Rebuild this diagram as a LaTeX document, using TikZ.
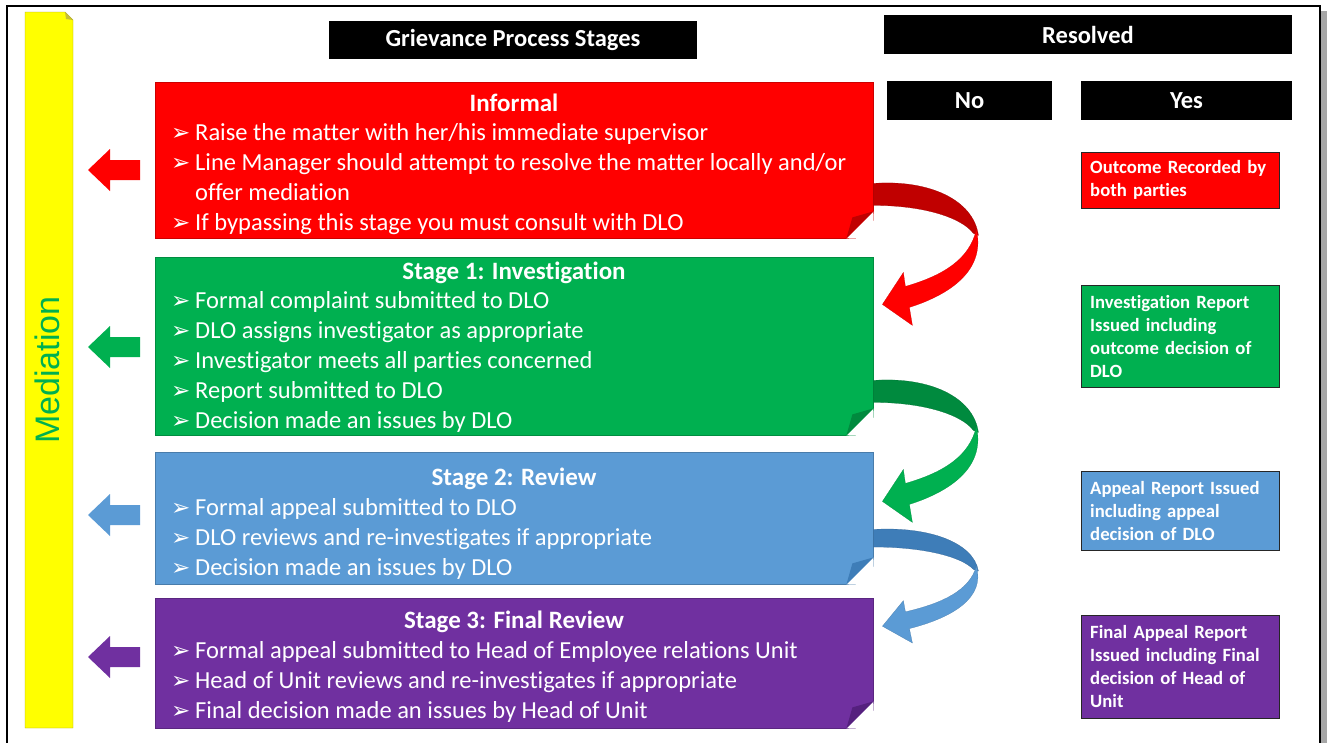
\documentclass[tikz,border=0pt]{standalone}
\usepackage{fontspec}
\setmainfont{Carlito}[Ligatures=NoCommon]
\newfontfamily\medfont{Liberation Sans}
\newfontfamily\bulfont{DejaVu Sans}

\definecolor{infred}{HTML}{FF0000}
\definecolor{infreddk}{HTML}{C00000}
\definecolor{invgreen}{HTML}{00B050}
\definecolor{invgreendk}{HTML}{008A3E}
\definecolor{revblue}{HTML}{5B9BD5}
\definecolor{revbluedk}{HTML}{3E7DB8}
\definecolor{finpurple}{HTML}{7030A0}
\definecolor{finpurpledk}{HTML}{55207E}
\definecolor{medyellow}{HTML}{FFFF00}

\newcommand{\bul}{\makebox[24pt][l]{\bulfont\fontsize{23}{23}\selectfont ➢}}

% folded corner at the bottom right of a stage box
\newcommand{\foldcorner}[2]{%
  \fill[white] ([xshift=-27pt]#1.south east) -- ([xshift=1pt,yshift=-1pt]#1.south east) -- ([yshift=27pt]#1.south east) -- cycle;
  \fill[#2] ([xshift=-27pt]#1.south east) -- ([xshift=-21pt,yshift=21pt]#1.south east) -- ([yshift=27pt]#1.south east) -- cycle;}

% curled arrow from one stage down to the next
\newcommand{\curlarrow}[4]{%
  \begin{scope}[shift={([yshift=55pt]#1.south east)}, yscale=#4]
    \fill[#3, draw=#3!80!black, very thin] (0,0) .. controls (55,-4) and (100,16) .. (105,52)
      -- (100,50) .. controls (88,34) and (50,22) .. (0,22) -- cycle;
    \fill[#2, draw=#2!80!black, very thin] (103,46) .. controls (112,85) and (80,110) .. (36,124)
      -- (39,142) -- (9,121) -- (30,89) -- (32,103) .. controls (70,92) and (96,76) .. (103,46) -- cycle;
  \end{scope}}

% block arrow pointing to the mediation bar
\newcommand{\backarrow}[2]{%
  \fill[#2] (140,#1-10) -- (110,#1-10) -- (110,#1-21) -- (88,#1) -- (110,#1+21) -- (110,#1+10) -- (140,#1+10) -- cycle;}

\tikzset{
  headbox/.style={fill=black, text=white, font=\bfseries\fontsize{24.5}{28}\selectfont, inner sep=0pt},
  stagebox/.style={fill=#1, draw=#1!80!black, anchor=north west, minimum width=718pt, inner sep=0pt},
  stagehead/.style={anchor=base, text=white, font=\bfseries\fontsize{25}{28}\selectfont, inner sep=0pt},
  stagebody/.style={anchor=north west, text=white, font=\fontsize{24.5}{30}\selectfont, inner sep=0pt, align=left},
  resultbox/.style={fill=#1, draw=black!85, anchor=north west, text=white, font=\bfseries\fontsize{18.7}{23}\selectfont,
    text width=180pt, inner xsep=9pt, inner ysep=0pt, align=left}
}

\begin{document}
\begin{tikzpicture}[x=1pt, y=-1pt, >=latex]
  \useasboundingbox (0,0) rectangle (1327,742);

  % Frame
  \fill[gray!70] (1321,11) rectangle (1327,760);
  \draw[line width=1.6pt] (7,6) rectangle (1320,760);

  % Mediation bar
  \fill[medyellow, draw=olive!80] (25,12) -- (65,12) -- (73,20) -- (73,728) -- (25,728) -- cycle;
  \fill[yellow!75!black] (65,12) -- (66,19) -- (73,20) -- cycle;
  \node[rotate=90, text=invgreen, font=\medfont\fontsize{34}{34}\selectfont] (mediation) at (47,370) {Mediation};

  % Headers
  \node[headbox, minimum width=368pt, minimum height=38pt] (stages) at (513,40) {Grievance Process Stages};
  \node[headbox, minimum width=408pt, minimum height=39pt] (resolved) at (1088,34.5) {Resolved};
  \node[headbox, minimum width=165pt, minimum height=39pt] (no) at (969.5,100.5) {No};
  \node[headbox, minimum width=211pt, minimum height=39pt] (yes) at (1186.5,100.5) {Yes};

  % Stage boxes
  \node[stagebox=infred, minimum height=156pt] (informal) at (155,82) {};
  \node[stagebox=invgreen, minimum height=178pt] (stageone) at (155,257) {};
  \node[stagebox=revblue, minimum height=132pt] (stagetwo) at (155,452) {};
  \node[stagebox=finpurple, minimum height=130pt] (stagethree) at (155,598) {};
  \foldcorner{informal}{infreddk}
  \foldcorner{stageone}{invgreendk}
  \foldcorner{stagetwo}{revbluedk}
  \foldcorner{stagethree}{finpurpledk}

  % Curled arrows
  \curlarrow{informal}{infred}{infreddk}{1}
  \curlarrow{stageone}{invgreen}{invgreendk}{1}
  \curlarrow{stagetwo}{revblue}{revbluedk}{0.8}

  % Arrows to mediation
  \backarrow{170}{infred}
  \backarrow{347}{invgreen}
  \backarrow{515}{revblue}
  \backarrow{657}{finpurple}

  % Stage texts
  \node[stagehead] (informalhead) at (514,111) {Informal};
  \node[stagebody] (informalbody) at (171,119) {\begin{tabular}{@{}l@{}l@{}}
    \bul & Raise the matter with her/his immediate supervisor\\
    \bul & Line Manager should attempt to resolve the matter locally and/or\\
         & offer mediation\\
    \bul & If bypassing this stage you must consult with DLO
  \end{tabular}};

  \node[stagehead] (stageonehead) at (514,279) {Stage 1: Investigation};
  \node[stagebody] (stageonebody) at (171,287) {\begin{tabular}{@{}l@{}l@{}}
    \bul & Formal complaint submitted to DLO\\
    \bul & DLO assigns investigator as appropriate\\
    \bul & Investigator meets all parties concerned\\
    \bul & Report submitted to DLO\\
    \bul & Decision made an issues by DLO
  \end{tabular}};

  \node[stagehead] (stagetwohead) at (514,485) {Stage 2: Review};
  \node[stagebody] (stagetwobody) at (171,494) {\begin{tabular}{@{}l@{}l@{}}
    \bul & Formal appeal submitted to DLO\\
    \bul & DLO reviews and re-investigates if appropriate\\
    \bul & Decision made an issues by DLO
  \end{tabular}};

  \node[stagehead] (stagethreehead) at (514,628) {Stage 3: Final Review};
  \node[stagebody] (stagethreebody) at (171,637) {\begin{tabular}{@{}l@{}l@{}}
    \bul & Formal appeal submitted to Head of Employee relations Unit\\
    \bul & Head of Unit reviews and re-investigates if appropriate\\
    \bul & Final decision made an issues by Head of Unit
  \end{tabular}};

  % Outcomes
  \node[resultbox=infred, minimum height=56pt] (outinformal) at (1081,152) {Outcome Recorded by\\both parties};
  \node[resultbox=invgreen, minimum height=102pt] (outone) at (1081,285) {Investigation Report\\Issued including\\outcome decision of\\DLO};
  \node[resultbox=revblue, minimum height=79pt] (outtwo) at (1081,471) {Appeal Report Issued\\including appeal\\decision of DLO};
  \node[resultbox=finpurple, minimum height=103pt] (outthree) at (1081,615) {Final Appeal Report\\Issued including Final\\decision of Head of\\Unit};
\end{tikzpicture}
\end{document}
